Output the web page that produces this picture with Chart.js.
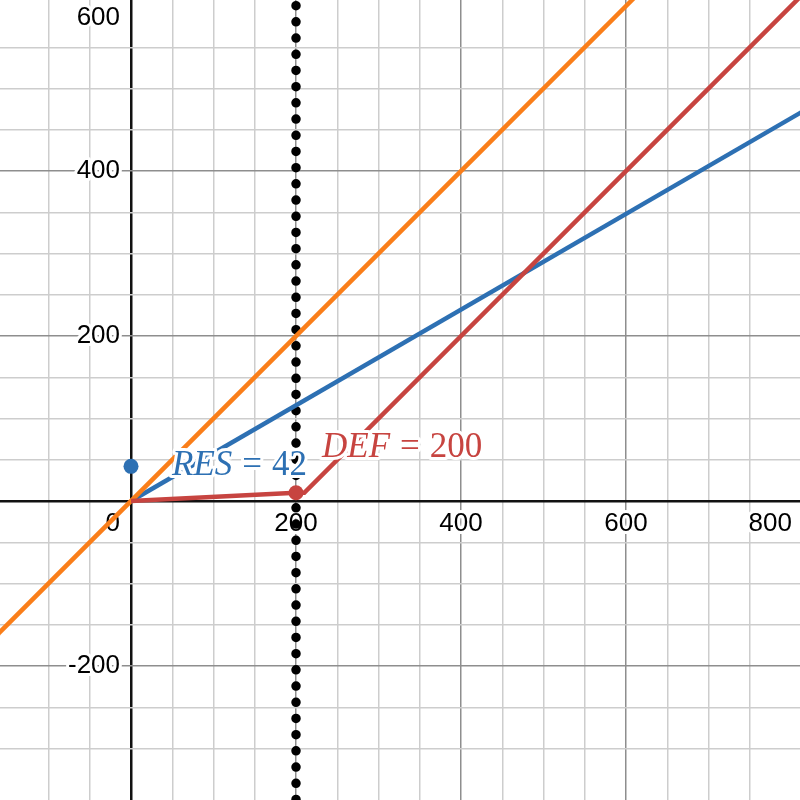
<!DOCTYPE html>
<html>
<head>
<meta charset="utf-8">
<script src="https://cdn.jsdelivr.net/npm/chart.js@4/dist/chart.umd.min.js"></script>
<style>
  html, body { margin: 0; padding: 0; background: #fff; }
  #wrap { width: 800px; height: 800px; position: relative; }
</style>
</head>
<body>
<div id="wrap"><canvas id="graph"></canvas></div>
<script>
// visible window of the graph
const xRange = [-158.8, 810.9];
const yRange = [-362.4, 607.3];

// axis numbers
const xTickLabels = [0, 200, 400, 600, 800];
const yTickLabels = [-200, 200, 400, 600];

// y = x
const orangeX = [-170, 620];
const orangeY = [-170, 620];

// RES line, slope ~0.58
const blueX = [0, 820];
const blueY = [0, 475.6];

// DEF line
const redX = [0, 200, 210, 820];
const redY = [0, 10, 10, 620];

// dotted vertical x = 200
const dottedX = [200, 200];
const dottedY = [-370, 615];

// labelled points
const pointNames = ['RES', 'DEF'];
const pointValues = ['42', '200'];
const pointX = [0, 200];
const pointY = [42, 10];

const BLUE = '#2d70b3';
const ORANGE = '#fa7e19';
const RED = '#c74440';

const pts = (xs, ys) => xs.map((x, i) => ({ x: x, y: ys[i] }));

function gridColor(ctx) {
    const v = ctx.tick.value;
    if (v === 0) return '#111';
    if (Math.abs(v % 200) < 1e-9) return '#8e8e8e';
    if (Math.abs(v % 50) < 1e-9) return '#cdcdcd';
    return 'rgba(0,0,0,0)';
}
function gridWidth(ctx) {
    return ctx.tick.value === 0 ? 2.5 : 1.5;
}

function haloText(ctx, text, x, y, color) {
    ctx.lineJoin = 'round';
    ctx.strokeStyle = '#fff';
    ctx.lineWidth = 6;
    ctx.strokeText(text, x, y);
    ctx.fillStyle = color;
    ctx.fillText(text, x, y);
}

// tick numbers with white halo, next to the axes
const tickNumbers = {
    id: 'tickNumbers',
    beforeDatasetsDraw(chart) {
        const { ctx, scales: { x, y }, chartArea } = chart;
        const ox = x.getPixelForValue(0);
        const oy = y.getPixelForValue(0);
        ctx.save();
        ctx.font = '26px "Liberation Sans", Arial, sans-serif';
        ctx.textBaseline = 'middle';
        xTickLabels.forEach(v => {
            const s = String(v);
            const w = ctx.measureText(s).width;
            let px = x.getPixelForValue(v);
            let left = v === 0 ? px - 11 - w : px - w / 2;
            if (left + w > chartArea.right - 8) left = chartArea.right - 8 - w;
            ctx.textAlign = 'left';
            haloText(ctx, s, left, oy + 23, '#000');
        });
        yTickLabels.forEach(v => {
            const s = String(v);
            let py = y.getPixelForValue(v);
            if (py < chartArea.top + 18) py = chartArea.top + 18;
            ctx.textAlign = 'right';
            haloText(ctx, s, ox - 11, py, '#000');
        });
        ctx.restore();
    }
};

// LaTeX-like point labels: italic name, upright "= value"
const pointLabels = {
    id: 'pointLabels',
    afterDatasetsDraw(chart) {
        const { ctx, scales: { x, y } } = chart;
        const offsets = [[41, 9], [26, -36]];
        const colors = [BLUE, RED];
        ctx.save();
        ctx.textAlign = 'left';
        ctx.textBaseline = 'alphabetic';
        pointNames.forEach((name, i) => {
            let px = x.getPixelForValue(pointX[i]) + offsets[i][0];
            const py = y.getPixelForValue(pointY[i]) + offsets[i][1];
            ctx.font = 'italic 35px "Liberation Serif", "DejaVu Serif", serif';
            haloText(ctx, name, px, py, colors[i]);
            px += ctx.measureText(name).width + 10;
            ctx.font = '35px "Liberation Serif", "DejaVu Serif", serif';
            haloText(ctx, '=', px, py, colors[i]);
            px += ctx.measureText('=').width + 10;
            haloText(ctx, pointValues[i], px, py, colors[i]);
        });
        ctx.restore();
    }
};

new Chart(document.getElementById('graph'), {
    type: 'scatter',
    data: {
        datasets: [
            {
                label: 'points',
                data: pts(pointX, pointY),
                pointRadius: 7.5,
                pointBackgroundColor: [BLUE, RED],
                pointBorderWidth: 0,
                showLine: false,
                order: 0
            },
            {
                label: 'DEF',
                data: pts(redX, redY),
                showLine: true,
                borderColor: RED,
                borderWidth: 4.5,
                pointRadius: 0,
                order: 1
            },
            {
                label: 'y = x',
                data: pts(orangeX, orangeY),
                showLine: true,
                borderColor: ORANGE,
                borderWidth: 4.5,
                pointRadius: 0,
                order: 2
            },
            {
                label: 'RES',
                data: pts(blueX, blueY),
                showLine: true,
                borderColor: BLUE,
                borderWidth: 4.5,
                pointRadius: 0,
                order: 3
            },
            {
                label: 'x = 200',
                data: pts(dottedX, dottedY),
                showLine: true,
                borderColor: '#000',
                borderWidth: 9.5,
                borderDash: [0, 16.2],
                borderDashOffset: 9.4,
                borderCapStyle: 'round',
                pointRadius: 0,
                order: 4
            }
        ]
    },
    options: {
        responsive: true,
        maintainAspectRatio: false,
        animation: false,
        layout: { padding: 0, autoPadding: false },
        plugins: {
            legend: { display: false },
            tooltip: { enabled: false }
        },
        scales: {
            x: {
                type: 'linear',
                min: xRange[0],
                max: xRange[1],
                border: { display: false },
                ticks: { display: false, stepSize: 50 },
                grid: { drawTicks: false, color: gridColor, lineWidth: gridWidth }
            },
            y: {
                type: 'linear',
                min: yRange[0],
                max: yRange[1],
                border: { display: false },
                ticks: { display: false, stepSize: 50 },
                grid: { drawTicks: false, color: gridColor, lineWidth: gridWidth }
            }
        }
    },
    plugins: [tickNumbers, pointLabels]
});
</script>
</body>
</html>
